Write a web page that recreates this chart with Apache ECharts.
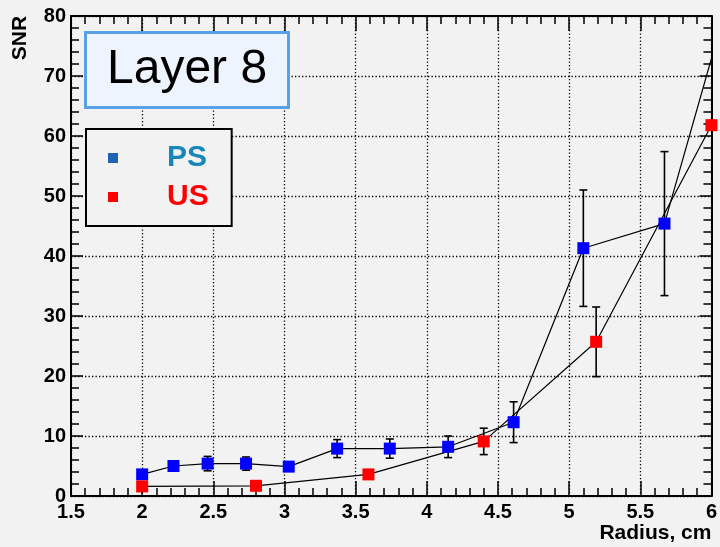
<!DOCTYPE html>
<html>
<head>
<meta charset="utf-8">
<script src="https://cdn.jsdelivr.net/npm/echarts@6/dist/echarts.min.js"></script>
<style>
html,body{margin:0;padding:0;background:#f2f2f2;}
#chart{width:720px;height:547px;}
</style>
</head>
<body>
<div id="chart"></div>
<script>
// ---- data ----
const psX   = [2.00, 2.22, 2.46, 2.73, 3.03, 3.37, 3.74, 4.15, 4.61, 5.10, 5.67, 6.20];
const psY   = [3.6, 5.0, 5.4, 5.4, 4.9, 7.9, 7.9, 8.2, 12.3, 41.3, 45.4, 89.6];
const psErr = [0.6, 0.5, 1.2, 1.1, 0.6, 1.5, 1.6, 1.8, 3.4, 9.7, 12.0, 0];

const usX   = [2.00, 2.80, 3.59, 4.40, 5.19, 6.00];
const usY   = [1.6, 1.7, 3.6, 9.1, 25.7, 61.8];
const usErr = [0.4, 0.4, 0.6, 2.2, 5.8, 0.8];

const xTickLabels = ['1.5', '2', '2.5', '3', '3.5', '4', '4.5', '5', '5.5', '6'];
const yTickLabels = ['0', '10', '20', '30', '40', '50', '60', '70', '80'];

const seriesNames = ['PS', 'US'];
const titleText = 'Layer 8';
const xTitle = 'Radius, cm';
const yTitle = 'SNR';

// ---- chart ----
const FONT = '"Liberation Sans", Arial, sans-serif';
const chart = echarts.init(document.getElementById('chart'), null, {renderer: 'canvas'});

function errRender(params, api) {
  const x = api.value(0), y = api.value(1), e = api.value(2);
  if (!e) return null;
  const top = api.coord([x, y + e]);
  const bot = api.coord([x, y - e]);
  const hw = 4;
  const st = {stroke: '#000', lineWidth: 1.6};
  return {
    type: 'group',
    children: [
      {type: 'line', shape: {x1: top[0], y1: top[1], x2: bot[0], y2: bot[1]}, style: st},
      {type: 'line', shape: {x1: top[0] - hw, y1: top[1], x2: top[0] + hw, y2: top[1]}, style: st},
      {type: 'line', shape: {x1: bot[0] - hw, y1: bot[1], x2: bot[0] + hw, y2: bot[1]}, style: st}
    ]
  };
}

const axisLineStyle = {color: '#000', width: 2};
const tickStyle = {color: '#000', width: 1.5};
const gridDots = {color: '#000', width: 1.3, type: [1.3, 2.2]};

const option = {
  backgroundColor: '#f2f2f2',
  animation: false,
  textStyle: {fontFamily: FONT},
  title: {
    text: titleText,
    left: 85, top: 32,
    padding: [14, 22, 14, 22],
    backgroundColor: '#eef4fd',
    borderColor: '#5aa0e6',
    borderWidth: 3,
    textStyle: {fontFamily: FONT, fontSize: 48, fontWeight: 'normal', color: '#000'}
  },
  legend: {
    left: 86, top: 129,
    orient: 'vertical',
    padding: [14, 23, 14, 22],
    itemGap: 9,
    itemWidth: 10, itemHeight: 10,
    backgroundColor: '#f2f2f2',
    borderColor: '#000',
    borderWidth: 2,
    borderRadius: 0,
    selectedMode: false,
    data: [
      {name: seriesNames[0], icon: 'rect', itemStyle: {color: '#1f63b5'},
       textStyle: {color: '#1787b9', fontSize: 30, fontWeight: 'bold', fontFamily: FONT, padding: [0, 0, 0, 44]}},
      {name: seriesNames[1], icon: 'rect', itemStyle: {color: '#ff0000'},
       textStyle: {color: '#ff0000', fontSize: 30, fontWeight: 'bold', fontFamily: FONT, padding: [0, 0, 0, 44]}}
    ]
  },
  grid: {left: 71, right: 7, top: 16, bottom: 51, containLabel: false},
  xAxis: [
    {
      type: 'value', min: 1.5, max: 6, interval: 0.5, position: 'bottom',
      name: xTitle, nameLocation: 'end', nameGap: 0,
      nameTextStyle: {fontFamily: FONT, fontSize: 21, fontWeight: 'bold', color: '#000',
                      align: 'right', verticalAlign: 'top', padding: [27, 0, 0, 0]},
      axisLine: {show: true, onZero: false, lineStyle: axisLineStyle},
      axisTick: {show: true, inside: true, length: 15, lineStyle: tickStyle},
      minorTick: {show: true, splitNumber: 5, length: 8, lineStyle: tickStyle},
      splitLine: {show: true, lineStyle: gridDots},
      axisLabel: {
        fontFamily: FONT, fontSize: 20, fontWeight: 'bold', color: '#000', margin: 6,
        formatter: v => xTickLabels[Math.round((v - 1.5) / 0.5)]
      }
    },
    {
      type: 'value', min: 1.5, max: 6, interval: 0.5, position: 'top',
      axisLine: {show: true, onZero: false, lineStyle: axisLineStyle},
      axisTick: {show: true, inside: true, length: 15, lineStyle: tickStyle},
      minorTick: {show: true, splitNumber: 5, length: 8, lineStyle: tickStyle},
      splitLine: {show: false},
      axisLabel: {show: false}
    }
  ],
  yAxis: [
    {
      type: 'value', min: 0, max: 80, interval: 10, position: 'left',
      axisLine: {show: true, onZero: false, lineStyle: axisLineStyle},
      axisTick: {show: true, inside: true, length: 12, lineStyle: tickStyle},
      minorTick: {show: true, splitNumber: 5, length: 8, lineStyle: tickStyle},
      splitLine: {show: true, lineStyle: gridDots},
      axisLabel: {
        fontFamily: FONT, fontSize: 20, fontWeight: 'bold', color: '#000', margin: 5,
        formatter: v => yTickLabels[Math.round(v / 10)]
      }
    },
    {
      type: 'value', min: 0, max: 80, interval: 10, position: 'right',
      axisLine: {show: true, onZero: false, lineStyle: axisLineStyle},
      axisTick: {show: true, inside: true, length: 12, lineStyle: tickStyle},
      minorTick: {show: true, splitNumber: 5, length: 8, lineStyle: tickStyle},
      splitLine: {show: false},
      axisLabel: {show: false}
    }
  ],
  graphic: [
    {
      type: 'text', x: 20, y: 38, rotation: Math.PI / 2, z: 100,
      style: {text: yTitle, font: 'bold 21px ' + FONT, fill: '#000', align: 'center', verticalAlign: 'middle'}
    }
  ],
  series: [
    {
      name: seriesNames[0] + ' err', type: 'custom', renderItem: errRender, clip: true, z: 2,
      xAxisIndex: 0, yAxisIndex: 0,
      data: psX.map((x, i) => [x, psY[i], psErr[i]])
    },
    {
      name: seriesNames[1] + ' err', type: 'custom', renderItem: errRender, clip: true, z: 2,
      xAxisIndex: 0, yAxisIndex: 0,
      data: usX.map((x, i) => [x, usY[i], usErr[i]])
    },
    {
      name: seriesNames[0], type: 'line', clip: true, z: 3,
      xAxisIndex: 0, yAxisIndex: 0,
      symbol: 'rect', symbolSize: 12, showAllSymbol: true,
      itemStyle: {color: '#0000ff'},
      lineStyle: {color: '#000', width: 1.2},
      emphasis: {disabled: true},
      data: psX.map((x, i) => [x, psY[i]])
    },
    {
      name: seriesNames[1], type: 'line', clip: true, z: 3,
      xAxisIndex: 0, yAxisIndex: 0,
      symbol: 'rect', symbolSize: 12, showAllSymbol: true,
      itemStyle: {color: '#ff0000'},
      lineStyle: {color: '#000', width: 1.2},
      emphasis: {disabled: true},
      data: usX.map((x, i) => [x, usY[i]])
    }
  ]
};
chart.setOption(option);
</script>
</body>
</html>
